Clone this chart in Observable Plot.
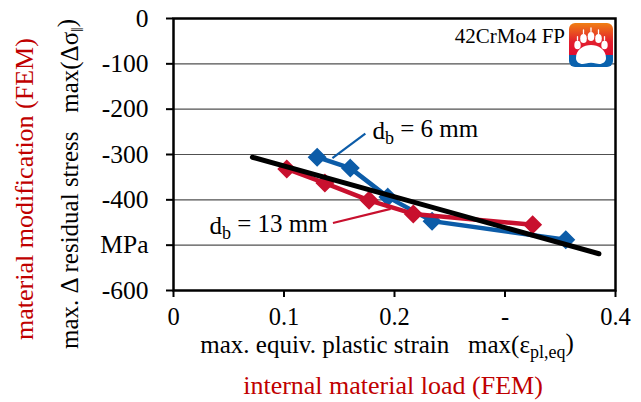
<!DOCTYPE html>
<html><head><meta charset="utf-8">
<script src="https://cdn.jsdelivr.net/npm/d3@7"></script>
<script src="https://cdn.jsdelivr.net/npm/@observablehq/plot@0.6"></script>
<style>
body{margin:0;background:#fff;overflow:hidden}
svg text{font-family:"Liberation Serif","Times New Roman",serif !important}
</style>
</head><body><div id="chart"></div>
<script>
// d_b = 6 mm series
const strain6 = [0.130, 0.160, 0.194, 0.234, 0.355];
const stress6 = [-306, -330, -394, -447, -488];
// d_b = 13 mm series
const strain13 = [0.1025, 0.137, 0.177, 0.217, 0.325];
const stress13 = [-332, -363, -401, -431, -455];
// black trend line
const trendStrain = [0.0714, 0.385];
const trendStress = [-306, -519];
// ticks
const xTicks = [0, 0.1, 0.2, 0.3, 0.4];
const xTickLabels = ["0", "0.1", "0.2", "-", "0.4"];
const yTicks = [0, -100, -200, -300, -400, -500, -600];
const yTickLabels = ["0", "-100", "-200", "-300", "-400", "MPa", "-600"];
const gridTicks = [-100, -200, -300, -400, -500];
// annotations
const annotText = ["d_b = 6 mm", "d_b = 13 mm"];
const annotX = [0.180, 0.1395];
const annotY = [-248, -457];
const leaderX1 = [0.1736, 0.1443];
const leaderY1 = [-254, -451];
const leaderX2 = [0.1438, 0.1965];
const leaderY2 = [-308, -420];

const BLUE = "#0c5ca8", RED = "#c8102e", TXTRED = "#c00000";
const s6 = strain6.map((x, i) => ({x, y: stress6[i]}));
const s13 = strain13.map((x, i) => ({x, y: stress13[i]}));
const trend = trendStrain.map((x, i) => ({x, y: trendStress[i]}));
const annots = annotText.map((t, i) => ({t, x: annotX[i], y: annotY[i],
  x1: leaderX1[i], y1: leaderY1[i], x2: leaderX2[i], y2: leaderY2[i], c: i === 0 ? BLUE : RED}));

const chart = Plot.plot({
  width: 641, height: 402,
  marginLeft: 173, marginRight: 26, marginTop: 18, marginBottom: 112,
  style: {fontFamily: "'Liberation Serif', 'Times New Roman', serif", background: "#fff", color: "#000"},
  x: {domain: [0, 0.4], label: null},
  y: {domain: [-600, 0], label: null},
  color: {type: "identity"},
  marks: [
    Plot.gridY(gridTicks, {stroke: "#505050", strokeOpacity: 1, strokeWidth: 1.2}),
    Plot.axisX(xTicks, {tickFormat: d => xTickLabels[xTicks.indexOf(d)], tickSize: 7, tickPadding: 10, fontSize: 24.5, strokeWidth: 2, label: null}),
    Plot.axisY(yTicks, {tickFormat: d => yTickLabels[yTicks.indexOf(d)], tickSize: 7, tickPadding: 18, fontSize: 25.5, strokeWidth: 2, label: null}),
    Plot.link(annots, {x1: "x1", y1: "y1", x2: "x2", y2: "y2", stroke: "c", strokeWidth: 2.2}),
    Plot.line(s6, {x: "x", y: "y", stroke: BLUE, strokeWidth: 4.5}),
    Plot.dot(s6, {x: "x", y: "y", symbol: "diamond2", r: 7.6, fill: BLUE, stroke: BLUE}),
    Plot.line(s13, {x: "x", y: "y", stroke: RED, strokeWidth: 4.5}),
    Plot.dot(s13, {x: "x", y: "y", symbol: "diamond2", r: 7.6, fill: RED, stroke: RED}),
    Plot.line(trend, {x: "x", y: "y", stroke: "#000", strokeWidth: 5, strokeLinecap: "round"}),
    Plot.text([annots[0]], {x: "x", y: "y", text: "t", textAnchor: "start", lineAnchor: "middle", fontSize: 25, fill: "#000", className: "annot"}),
    Plot.text([annots[1]], {x: "x", y: "y", text: "t", textAnchor: "end", lineAnchor: "middle", fontSize: 25, fill: "#000", className: "annot"}),
    Plot.frame({stroke: "#000", strokeWidth: 2.5})
  ]
});
document.getElementById("chart").appendChild(chart);

const svg = d3.select(chart);
// subscripts in annotations
svg.selectAll(".annot text").each(function() {
  const el = d3.select(this);
  const s = this.textContent;
  const m = s.match(/^(.*)_(\w)(.*)$/);
  if (!m) return;
  el.text(null);
  el.append("tspan").text(m[1]);
  el.append("tspan").attr("dy", "0.3em").attr("font-size", "72%").text(m[2]);
  el.append("tspan").attr("dy", "-0.3em").text(m[3]);
});

const ff = "'Liberation Serif', 'Times New Roman', serif";
// x titles
const xt = svg.append("text").attr("x", 387).attr("y", 353).attr("text-anchor", "middle")
  .attr("font-size", 25).attr("font-family", ff).attr("fill", "#000");
xt.append("tspan").text("max. equiv. plastic strain\u00a0\u00a0\u00a0max(\u03b5");
xt.append("tspan").attr("dy", "0.3em").attr("font-size", "72%").text("pl,eq");
xt.append("tspan").attr("dy", "-0.3em").text(")");
svg.append("text").attr("x", 393).attr("y", 394).attr("text-anchor", "middle")
  .attr("font-size", 26).attr("font-family", ff).attr("fill", TXTRED).text("internal material load (FEM)");
// y titles
const yt = svg.append("text").attr("transform", "translate(78,184) rotate(-90)").attr("text-anchor", "middle")
  .attr("font-size", 25).attr("font-family", ff).attr("fill", "#000");
yt.append("tspan").text("max. \u0394 residual stress\u00a0\u00a0\u00a0max(\u0394\u03c3");
yt.append("tspan").attr("dy", "0.3em").attr("font-size", "65%").text("\u2016");
yt.append("tspan").attr("dy", "-0.3em").text(")");
svg.append("text").attr("transform", "translate(33,189) rotate(-90)").attr("text-anchor", "middle")
  .attr("font-size", 26).attr("font-family", ff).attr("fill", TXTRED).text("material modification (FEM)");
// material label
svg.append("text").attr("x", 565).attr("y", 43).attr("text-anchor", "end")
  .attr("font-size", 21).attr("font-family", ff).attr("fill", "#000").text("42CrMo4 FP");

// logo
const defs = svg.append("defs");
const lg = defs.append("linearGradient").attr("id", "lg").attr("x1", 0).attr("y1", 0).attr("x2", 0).attr("y2", 1);
lg.append("stop").attr("offset", "0").attr("stop-color", "#f07f12");
lg.append("stop").attr("offset", "0.42").attr("stop-color", "#e2202e");
lg.append("stop").attr("offset", "0.72").attr("stop-color", "#e00d30");
lg.append("stop").attr("offset", "0.73").attr("stop-color", "#0a62ae");
lg.append("stop").attr("offset", "1").attr("stop-color", "#0a62ae");
const logo = svg.append("g").attr("transform", "translate(569,23)");
logo.append("rect").attr("width", 44).attr("height", 44).attr("rx", 6).attr("fill", "url(#lg)");
logo.append("path").attr("d", "M7,35 C7,26 15,22 22,22 C29,22 37,26 37,35 C37,40 32,42 27,40.5 C24,39.5 20,39.5 17,40.5 C12,42 7,40 7,35 Z").attr("fill", "#fff");
[[8.5,22,3.2,4.3],[14.5,15.5,3.3,4.6],[22,13.5,3.3,4.6],[29.5,15.5,3.3,4.6],[35.5,22,3.2,4.3]].forEach(([cx, cy, rx, ry]) => {
  logo.append("ellipse").attr("cx", cx).attr("cy", cy).attr("rx", rx).attr("ry", ry).attr("fill", "#fff");
  logo.append("line").attr("x1", cx).attr("y1", cy - ry - 0.5).attr("x2", cx).attr("y2", cy - ry - 4)
    .attr("stroke", "#fff").attr("stroke-width", 1.3).attr("stroke-linecap", "round");
});
</script>
</body></html>
